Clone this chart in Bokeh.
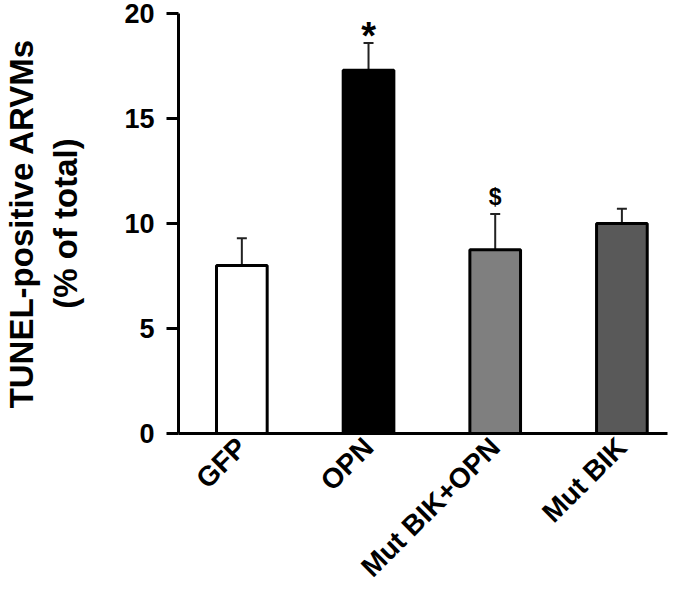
import math
from bokeh.plotting import figure
from bokeh.models import ColumnDataSource, Whisker, FixedTicker, Range1d, Label
from bokeh.embed import file_html
from bokeh.resources import INLINE

categories = ["GFP", "OPN", "Mut BIK+OPN", "Mut BIK"]
means = [8.0, 17.3, 8.75, 10.0]
errors = [1.3, 1.3, 1.7, 0.7]
colors = ["#ffffff", "#000000", "#7f7f7f", "#595959"]
marks = ["", "*", "$", ""]
y_ticks = [0, 5, 10, 15, 20]
y_title = "TUNEL-positive ARVMs\n(% of total)"

xs = list(range(len(categories)))
upper = [m + e for m, e in zip(means, errors)]

FONT = "Liberation Sans"

p = figure(width=683, height=600, output_backend="svg", toolbar_location=None,
           x_range=Range1d(-0.5, 3.36), y_range=Range1d(0, 20),
           min_border_left=169, min_border_right=16, min_border_top=13,
           min_border_bottom=167)
p.outline_line_color = None
p.xgrid.visible = False
p.ygrid.visible = False
p.background_fill_color = "white"

src = ColumnDataSource(dict(x=xs, top=means, color=colors, upper=upper,
                            base=xs))
p.vbar(x="x", top="top", width=0.4, bottom=0, source=src,
       fill_color="color", line_color="black", line_width=3)

w = Whisker(base="base", upper="upper", lower="top", source=src,
            dimension="height", line_color="#222222", line_width=2)
w.upper_head.size = 10
w.upper_head.line_width = 2
w.upper_head.line_color = "#222222"
w.lower_head = None
p.add_layout(w)

# significance marks
for x, u, m in zip(xs, upper, marks):
    if not m:
        continue
    if m == "*":
        p.add_layout(Label(x=x, y=u + 0.35, text=m, text_font=FONT,
                           text_font_style="bold", text_font_size="38px",
                           text_align="center", text_baseline="middle",
                           text_color="black"))
    else:
        p.add_layout(Label(x=x, y=u + 0.8, text=m, text_font=FONT,
                           text_font_style="bold", text_font_size="23px",
                           text_align="center", text_baseline="middle",
                           text_color="black"))

# axes
yax = p.yaxis[0]
yax.ticker = FixedTicker(ticks=y_ticks)
yax.axis_line_width = 3
yax.axis_line_color = "black"
yax.major_tick_line_width = 3
yax.major_tick_line_color = "black"
yax.major_tick_out = 12
yax.major_tick_in = 0
yax.minor_tick_line_color = None
yax.major_label_text_font = FONT
yax.major_label_text_font_style = "bold"
yax.major_label_text_font_size = "27px"
yax.major_label_text_color = "black"
yax.major_label_standoff = 12
yax.axis_label = y_title
yax.axis_label_text_font = FONT
yax.axis_label_text_font_style = "bold"
yax.axis_label_text_font_size = "33px"
yax.axis_label_text_color = "black"
yax.axis_label_standoff = 37

xax = p.xaxis[0]
xax.ticker = FixedTicker(ticks=xs)
xax.major_label_overrides = {i: c for i, c in zip(xs, categories)}
xax.axis_line_width = 3
xax.axis_line_color = "black"
xax.major_tick_line_color = None
xax.minor_tick_line_color = None
xax.major_label_orientation = math.pi / 4
xax.major_label_text_font = FONT
xax.major_label_text_font_style = "bold"
xax.major_label_text_font_size = "28px"
xax.major_label_text_color = "black"
xax.major_label_standoff = 3

open("out.html", "w").write(file_html(p, INLINE))
